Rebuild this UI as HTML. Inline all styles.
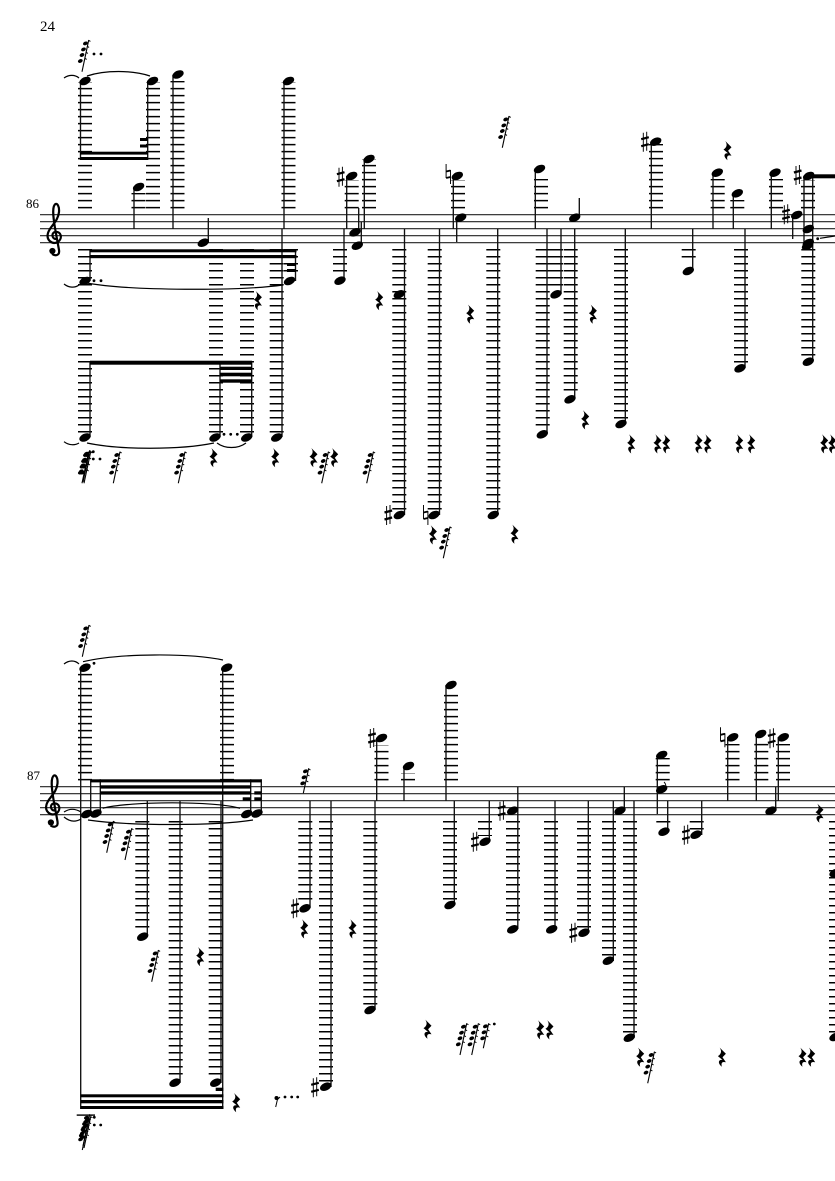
<!DOCTYPE html>
<html><head><meta charset="utf-8"><title>Score page 24</title>
<style>
html,body{margin:0;padding:0;background:#fff}
svg{display:block}
.st{stroke:#222;stroke-width:1.1;fill:none}
.s{stroke:#111;stroke-width:1.35;fill:none}
.L{stroke:#000;stroke-width:14;stroke-dasharray:1.5 5.5;fill:none}
.sl{stroke:#000;stroke-width:1.2;fill:none}
text{font-family:"Liberation Serif",serif;fill:#000}
</style></head><body>
<svg xmlns="http://www.w3.org/2000/svg" width="835" height="1181" viewBox="0 0 835 1181">
<defs>
<ellipse id="h" rx="6" ry="3.8" transform="rotate(-25)"/>
<path id="r" d="M-2-9.7L4.2-3.5L.8 0L4.2 5C1 4-1 5 .2 9.5C-4.2 6-3.6 2 .7 2.6L-3.8-1.2C-.6-3.2 .4-6-2-9.7Z"/>
<g id="sh"><path d="M-1.7-9V10M1.7-10V9" stroke="#000" stroke-width=".95"/><path d="M-3.8-2.5L3.8-4.5M-3.8 4.5L3.8 2.5" stroke="#000" stroke-width="2.3"/></g>
<g id="na"><path d="M-2.2-10V4M2.2-4V10" stroke="#000" stroke-width=".95"/><path d="M-2.2-2.5L2.2-3.5M-2.2 4L2.2 3" stroke="#000" stroke-width="1.9"/></g>
<g id="g"><path d="M0 0L6.7-31.6" stroke="#000" stroke-width="1.1"/>
<ellipse cx="-1.7" cy="-10.7" rx="2.5" ry="1.8" transform="rotate(-25 -1.7 -10.7)"/><ellipse cx="0" cy="-16.7" rx="2.5" ry="1.8" transform="rotate(-25 0 -16.7)"/><ellipse cx="1.5" cy="-22.3" rx="2.5" ry="1.8" transform="rotate(-25 1.5 -22.3)"/><ellipse cx="3.4" cy="-28.3" rx="2.5" ry="1.8" transform="rotate(-25 3.4 -28.3)"/>
<path d="M2.7-13.5l2 1.2M3.9-19.5l2 1.2M5.1-25.5l2 1.2M6.4-31.5l2 1.2" stroke="#000" stroke-width="1"/></g>
<g id="g3"><path d="M0 0L5.4-25" stroke="#000" stroke-width="1.1"/>
<ellipse cx="-.6" cy="-10" rx="2.5" ry="1.8" transform="rotate(-25 -.6 -10)"/><ellipse cx=".7" cy="-16" rx="2.5" ry="1.8" transform="rotate(-25 .7 -16)"/><ellipse cx="2.1" cy="-22" rx="2.5" ry="1.8" transform="rotate(-25 2.1 -22)"/>
<path d="M3-12.5l2 1.2M4.2-18.5l2 1.2M5.2-24.5l2 1.2" stroke="#000" stroke-width="1"/></g>
<g id="c"><path d="M1 3C-3 3-4-3 0-4C6-5 8 2 3 6C-3 9-9 4-7-3C-5-10 3-14 4-24C4.5-30 2-33 .5-32C-3-30-2-20 0-8L4 14C5 20 0 20-3 18" fill="none" stroke="#000" stroke-width="2.2"/><circle cx="-2.6" cy="15" r="3.1"/></g>
</defs>

<text x="40" y="31" font-size="15">24</text>
<text x="26" y="208" font-size="13">86</text>
<text x="27" y="780" font-size="13">87</text>

<!-- staff lines -->
<path class="st" d="M40 214.7H835M40 221.7H835M40 228.7H835M40 235.7H835M40 242.7H835M40 786.7H835M40 793.7H835M40 800.7H835M40 807.7H835M40 814.7H835"/>
<use href="#c" x="55" y="236"/><use href="#c" x="53.5" y="807.5"/>

<!-- ledger columns, system 1 above -->
<path class="L" d="M85 208.4V82M153 208.4V82M177.5 208.4V81M138.5 208.4V193M288.5 208.4V82M351.7 208.4V180M369 208.4V159M458 208.4V180M541 208.4V179M656 208.4V144M717.7 208.4V179M737.3 208.4V200M776 208.4V179M808 208.4V180"/>
<!-- system 1 below -->
<path class="L" d="M85 249V437M216 249V437M247 249V437M276.7 249V437M291 249V277M340 249V277M399.3 249V510M434.7 249V510M493.3 249V510M542.7 249V430M556 249V290M570.7 249V395M621 249V420M688.7 249V263M741 249V363M808.3 249V356"/>
<!-- system 2 above -->
<path class="L" d="M85 780.4V670M227 780.4V670M662.7 780.4V758M732.5 780.4V744M761.3 780.4V741M783 780.4V744M381.5 780.4V745M408 780.4V773M451 780.4V692"/>
<!-- system 2 below -->
<path class="L" d="M142.3 821V933M175.7 821V1077M215.7 821V1077M305.3 821V905M326 821V1082M370.3 821V1006M450 821V901M485 821V836M513 821V925M551 821V925M584 821V928M609 821V957M630 821V1033M663.3 821V828M696.7 821V830M836 821V1033"/>

<!-- stems -->
<path class="s" d="M80.5 81V160M147.7 81V160M173 75V229M134 187V229M208.3 243V218M284 81V229M90 250V281M90 362V437M220 362V437M251.7 362V437M282 229V437M295.5 252V281M344 229V281M346.7 176V229M358.7 232V208M361.3 245V222M364.3 159V229M404.5 229V515M439.5 229V515M453.3 176V229M456.7 218V242M497.7 229V515M535.3 169V229M547 229V434M561 229V294M574.7 229V399M579.3 218V198M625.3 229V424M651.3 142V229M692.7 229V271M713 173V229M733.3 193V229M745 229V368M771.3 173V229M792.7 215V239M804 176V250M812.7 176V362
M80.7 668V1109M222.7 668V1109M221 801V1083M90.7 779.3V814M100.3 779.3V813M250.7 779.3V814M261.3 779.3V813M147.3 801V937M180 801V1083M310 801V908M331 801V1087M375 801V1010M376.7 738V801M404 766V801M446 685V801M454.3 801V905M489.3 801V842M517.8 787V929M555 801V929M588.3 801V933M613.3 801V961M634 801V1038M624.3 787V811M657.3 755V814M667.7 801V832M701.7 801V835M727.7 737V801M756.3 734V801M778.3 737V801M775.7 787V811"/>

<!-- beams -->
<g fill="#000">
<rect x="80" y="151.7" width="68" height="2.9"/><rect x="80" y="157" width="68" height="3"/>
<rect x="140" y="138" width="8" height="3"/><rect x="140" y="144.5" width="8" height="3"/>
<rect x="89.5" y="249.3" width="207" height="3"/><rect x="89.5" y="255" width="207" height="3.2"/>
<rect x="287" y="263" width="9" height="3"/><rect x="287" y="269" width="9" height="3"/>
<rect x="90" y="360.7" width="162" height="4"/>
<rect x="220" y="366.7" width="32" height="3.3"/><rect x="220" y="372.7" width="32" height="3.6"/><rect x="220" y="379.3" width="32" height="3.4"/>
<rect x="812.5" y="174.3" width="23" height="4"/>
<rect x="90.5" y="779.3" width="171" height="3.1"/>
<rect x="100" y="785.3" width="151" height="3.3"/><rect x="100" y="791.3" width="151" height="3.3"/>
<rect x="242.7" y="797.3" width="8" height="3.3"/><rect x="254.3" y="791.3" width="7" height="3.3"/><rect x="254.3" y="797.3" width="7" height="3.3"/>
<rect x="80.5" y="1094.3" width="143" height="3"/><rect x="80.5" y="1100" width="143" height="3.3"/><rect x="80.5" y="1106" width="143" height="3"/>
<rect x="215.7" y="1087.7" width="7.6" height="3.3"/>
<rect x="76.7" y="1114.4" width="18.3" height="1.4"/>
</g>

<!-- noteheads -->
<g fill="#000">
<use href="#h" x="85" y="81"/><use href="#h" x="152.5" y="81"/><use href="#h" x="178" y="74.5"/><use href="#h" x="138.6" y="187"/><use href="#h" x="203.3" y="242.7"/><use href="#h" x="288.5" y="81"/>
<use href="#h" x="85" y="281"/><use href="#h" x="289.5" y="281"/><use href="#h" x="85" y="437.5"/><use href="#h" x="215" y="437.5"/><use href="#h" x="246.7" y="437.5"/><use href="#h" x="276.7" y="437.5"/>
<use href="#h" x="340" y="280.7"/><use href="#h" x="351.7" y="176"/><use href="#h" x="355" y="232.3"/><use href="#h" x="357.3" y="245.7"/><use href="#h" x="369" y="159"/>
<use href="#h" x="399.3" y="294.3"/><use href="#h" x="399.3" y="515"/><use href="#h" x="434" y="515"/><use href="#h" x="457.3" y="176"/><use href="#h" x="460.7" y="217.7"/><use href="#h" x="493.3" y="515"/>
<use href="#h" x="539.5" y="169"/><use href="#h" x="542.3" y="434.3"/><use href="#h" x="556" y="294.3"/><use href="#h" x="570" y="399.3"/><use href="#h" x="574.7" y="217.7"/><use href="#h" x="621" y="424"/>
<use href="#h" x="655.7" y="141.7"/><use href="#h" x="688.3" y="271"/><use href="#h" x="717.3" y="172.7"/><use href="#h" x="737.3" y="193.3"/><use href="#h" x="740" y="368.3"/><use href="#h" x="775" y="172.7"/>
<use href="#h" x="796.7" y="215"/><use href="#h" x="808.7" y="176"/><use href="#h" x="808.3" y="229"/><use href="#h" x="808.3" y="243"/><use href="#h" x="807.5" y="246"/><use href="#h" x="808.3" y="361.7"/>
<use href="#h" x="85" y="667.7"/><use href="#h" x="226.7" y="667.7"/><use href="#h" x="86.7" y="814"/><use href="#h" x="96" y="813.5"/><use href="#h" x="246.7" y="814"/><use href="#h" x="257" y="813.5"/>
<use href="#h" x="142.7" y="936.7"/><use href="#h" x="175" y="1082.7"/><use href="#h" x="215.7" y="1082.7"/><use href="#h" x="305" y="908.3"/><use href="#h" x="325.7" y="1086.7"/><use href="#h" x="370" y="1010"/>
<use href="#h" x="381.5" y="738"/><use href="#h" x="408.5" y="766"/><use href="#h" x="451" y="685"/><use href="#h" x="450" y="905"/><use href="#h" x="485" y="841.7"/><use href="#h" x="512.7" y="810.7"/><use href="#h" x="512.7" y="929.3"/>
<use href="#h" x="551.7" y="929.3"/><use href="#h" x="584" y="932.7"/><use href="#h" x="608.3" y="960.7"/><use href="#h" x="620" y="810.7"/><use href="#h" x="629.3" y="1037.7"/><use href="#h" x="661.7" y="755"/><use href="#h" x="661.7" y="789.3"/><use href="#h" x="664" y="831.7"/>
<use href="#h" x="696" y="834.7"/><use href="#h" x="732.7" y="737.3"/><use href="#h" x="760.7" y="734"/><use href="#h" x="783.3" y="737.3"/><use href="#h" x="771" y="810.7"/><use href="#h" x="835" y="873"/><use href="#h" x="835" y="1037"/>
</g>
<path d="M664 782C667 785 666 789 664 792" fill="none" stroke="#000" stroke-width=".9"/>

<!-- accidentals -->
<use href="#sh" x="340.7" y="176.7"/><use href="#sh" x="645" y="141.7"/><use href="#sh" x="786" y="214.3"/><use href="#sh" x="797.7" y="175"/><use href="#sh" x="388.3" y="515"/>
<use href="#na" x="448.3" y="174"/><use href="#na" x="425.7" y="515"/>
<use href="#sh" x="372" y="738"/><use href="#sh" x="295" y="908.3"/><use href="#sh" x="315" y="1087.3"/><use href="#sh" x="501.7" y="810.7"/><use href="#sh" x="475" y="841.7"/><use href="#sh" x="573.3" y="932.7"/><use href="#sh" x="686" y="834.7"/><use href="#sh" x="771.7" y="738.3"/>
<use href="#na" x="722.7" y="737.3"/>

<!-- rests -->
<g fill="#000">
<use href="#r" x="257.7" y="300.7"/><use href="#r" x="379" y="300.7"/><use href="#r" x="470" y="314.3"/><use href="#r" x="592.7" y="314.3"/><use href="#r" x="585" y="420"/><use href="#r" x="727.3" y="150.7"/>
<use href="#r" x="213.3" y="457.7"/><use href="#r" x="275" y="457.7"/><use href="#r" x="313.3" y="457.7"/><use href="#r" x="334" y="457.7"/><use href="#r" x="432.7" y="535"/><use href="#r" x="514.3" y="534.3"/>
<use href="#r" x="631" y="444"/><use href="#r" x="657.3" y="444"/><use href="#r" x="666" y="444"/><use href="#r" x="698.3" y="444"/><use href="#r" x="707.3" y="444"/><use href="#r" x="739" y="444"/><use href="#r" x="751" y="444"/><use href="#r" x="824" y="444"/><use href="#r" x="832" y="444"/>
<use href="#r" x="200" y="956.7"/><use href="#r" x="304" y="929"/><use href="#r" x="352.3" y="929"/><use href="#r" x="236" y="1102.7"/><use href="#r" x="819.3" y="813.3"/>
<use href="#r" x="427.3" y="1029.3"/><use href="#r" x="540" y="1030"/><use href="#r" x="549.3" y="1030"/><use href="#r" x="640" y="1057.3"/><use href="#r" x="721.7" y="1057.3"/><use href="#r" x="802.3" y="1057.3"/><use href="#r" x="811" y="1057.3"/>
</g>

<!-- grace stacks -->
<g fill="#000">
<use href="#g" x="82" y="71.7"/><use href="#g" x="502.3" y="147.7"/>
<use href="#g" x="82" y="483.3"/><use href="#g" x="84" y="483.3"/><use href="#g" x="83" y="482"/><use href="#g" x="113.3" y="483.3"/><use href="#g" x="178.3" y="483.3"/><use href="#g" x="321.7" y="483.3"/><use href="#g" x="366.7" y="483.3"/><use href="#g" x="443.3" y="558.3"/>
<use href="#g" x="82.3" y="656.7"/><use href="#g" x="106.7" y="852.7"/><use href="#g" x="125" y="860"/><use href="#g" x="151.7" y="981.7"/><use href="#g3" x="303.3" y="793.3"/>
<use href="#g" x="460" y="1055"/><use href="#g" x="471.7" y="1055"/><use href="#g3" x="483.3" y="1048.3"/><use href="#g" x="647.7" y="1083.3"/>
<use href="#g" x="82.3" y="1150"/><use href="#g" x="84" y="1148"/><use href="#g" x="83" y="1146"/>
</g>
<path d="M275.7 1107L278 1097" stroke="#000" stroke-width="1"/><circle cx="276.5" cy="1098" r="2"/><path d="M277 1100L280 1097" stroke="#000" stroke-width="1"/>

<!-- dots -->
<g fill="#000">
<circle cx="94" cy="54" r="1.4"/><circle cx="101" cy="54" r="1.4"/><circle cx="94" cy="280.7" r="1.4"/><circle cx="101" cy="280.7" r="1.4"/>
<circle cx="224" cy="434.3" r="1.4"/><circle cx="230.7" cy="434.3" r="1.4"/><circle cx="237.3" cy="434.3" r="1.4"/>
<circle cx="93.3" cy="451.7" r="1.4"/><circle cx="93.3" cy="459" r="1.4"/><circle cx="100" cy="459" r="1.4"/>
<circle cx="817.7" cy="238.7" r="1.4"/><circle cx="94" cy="663.3" r="1.4"/>
<circle cx="94.3" cy="1117.3" r="1.4"/><circle cx="94.3" cy="1125" r="1.4"/><circle cx="100.7" cy="1125" r="1.4"/>
<circle cx="285" cy="1097" r="1.4"/><circle cx="291.7" cy="1097" r="1.4"/><circle cx="297.7" cy="1097" r="1.4"/><circle cx="494.3" cy="1024" r="1.4"/>
</g>

<!-- slurs and ties -->
<path class="sl" d="M87 76C105 70 132 70 150 76M64 78C69 74.5 75 74.5 79 78M87 283C130 291 240 291 283 285M64 284C69 288 75 288 79 285M87 443C120 450 180 450 214 443M217 443C225 449 238 449 246 443M64 441.7C69 445.5 75 445.5 79 443M820 238.3L835 236
M83 661.7C120 653 190 653 223 660M64 664C69 660 75 660 79 664M102.7 808.3C130 801 215 801 240 808.3M88 820C130 826 215 826 253 820M64 812C70 808 76 809 81 812M64 817C70 822 76 822 81 819"/>
</svg>
</body></html>
